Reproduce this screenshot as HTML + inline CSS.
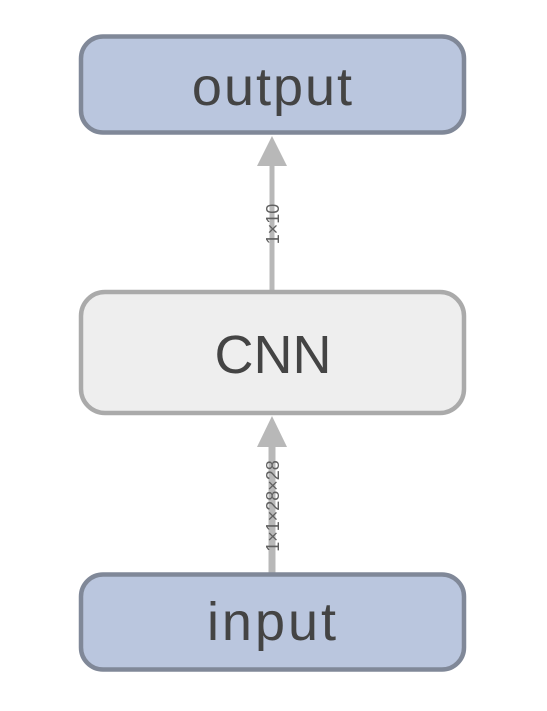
<!DOCTYPE html>
<html><head><style>html,body{margin:0;padding:0;background:#fff;}svg{display:block}</style></head>
<body>
<svg width="547" height="711" viewBox="0 0 547 711" xmlns="http://www.w3.org/2000/svg" font-family="Liberation Sans, sans-serif">
<rect x="0" y="0" width="547" height="711" fill="#fff"/>
<line x1="272" y1="291" x2="272" y2="160" stroke="#b8b8b8" stroke-width="5"/>
<polygon points="272,136 257,166 287,166" fill="#b8b8b8"/>
<line x1="272" y1="573" x2="272" y2="440" stroke="#b8b8b8" stroke-width="7"/>
<polygon points="272,416 257,447 287,447" fill="#b8b8b8"/>
<text transform="translate(279,224) rotate(-90)" text-anchor="middle" font-size="18" fill="#606060">1×10</text>
<text transform="translate(279,506) rotate(-90)" text-anchor="middle" font-size="18" fill="#606060">1×1×28×28</text>
<rect x="81" y="36.5" width="383" height="96" rx="22" fill="#bac6de" stroke="#808898" stroke-width="4.5"/>
<text x="273" y="105" text-anchor="middle" font-size="54" letter-spacing="2" fill="#444">output</text>
<rect x="81" y="292" width="383" height="121" rx="24" fill="#eeeeee" stroke="#aaaaaa" stroke-width="4.5"/>
<text x="273" y="373" text-anchor="middle" font-size="54" fill="#444">CNN</text>
<rect x="81" y="574.5" width="383" height="95" rx="22" fill="#bac6de" stroke="#808898" stroke-width="4.5"/>
<text x="273" y="640" text-anchor="middle" font-size="54" letter-spacing="3" fill="#444">input</text>
</svg>
</body></html>
